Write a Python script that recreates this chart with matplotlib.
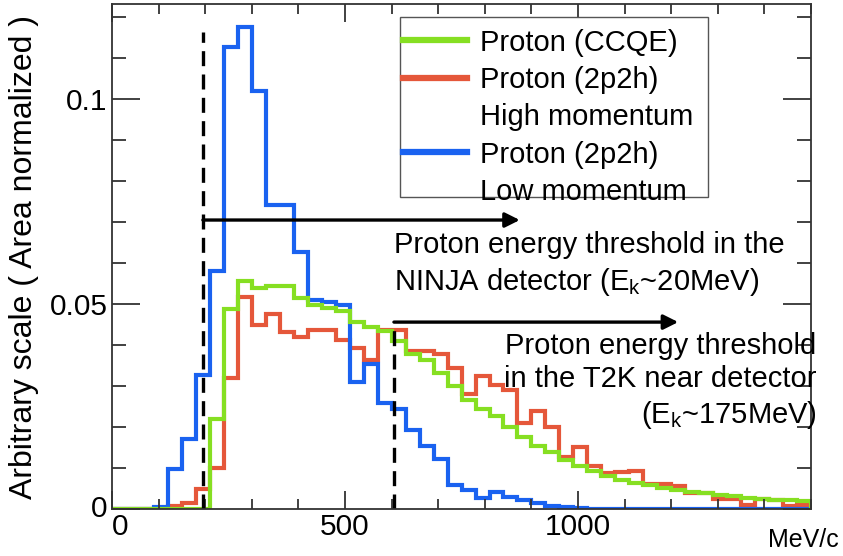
import numpy as np
import matplotlib
matplotlib.use('Agg')
import matplotlib.pyplot as plt
import matplotlib.transforms as mtransforms
from matplotlib.lines import Line2D
from matplotlib.patches import Rectangle
from matplotlib.ticker import MultipleLocator

plt.rcParams['font.family'] = ['Liberation Sans', 'DejaVu Sans']
plt.rcParams['mathtext.fontset'] = 'custom'
plt.rcParams['mathtext.rm'] = 'Liberation Sans'
plt.rcParams['mathtext.it'] = 'Liberation Sans'

# ---- data: proton momentum histograms, 30 MeV/c bins from 0 to 1500 ----
edges = np.arange(0, 1530, 30)

ccqe = [0, 0, 0, 0, 0, 0, 0, 0.022, 0.0487, 0.0556,
        0.0538, 0.0544, 0.0544, 0.0514, 0.0497, 0.049, 0.0484, 0.0456, 0.0445, 0.0434,
        0.041, 0.0378, 0.0363, 0.0331, 0.030, 0.0266, 0.0245, 0.0228, 0.020, 0.0176,
        0.0154, 0.014, 0.012, 0.0105, 0.0093, 0.0081, 0.0072, 0.0064, 0.0058, 0.0052,
        0.0046, 0.0042, 0.0038, 0.0034, 0.0031, 0.0028, 0.0025, 0.0023, 0.0021, 0.0019]

high_2p2h = [0, 0, 0, 0, 0.0008, 0.0015, 0.005, 0.010, 0.032, 0.0517,
             0.045, 0.0476, 0.0432, 0.042, 0.0437, 0.0437, 0.0412, 0.0393, 0.0363, 0.0437,
             0.0437, 0.0386, 0.0386, 0.0378, 0.0345, 0.028, 0.0325, 0.0302, 0.029, 0.021,
             0.024, 0.020, 0.0128, 0.0152, 0.0105, 0.0088, 0.009, 0.0092, 0.006, 0.006,
             0.0055, 0.004, 0.004, 0.0025, 0.0025, 0.001, 0.0024, 0.0022, 0.0008, 0.001]

low_2p2h = [0, 0, 0, 0.0005, 0.0097, 0.017, 0.0327, 0.058, 0.1127, 0.1176,
            0.102, 0.0742, 0.0742, 0.0628, 0.051, 0.0505, 0.0498, 0.031, 0.0354, 0.0258,
            0.0243, 0.0193, 0.0154, 0.0122, 0.0059, 0.0046, 0.0027, 0.0041, 0.003, 0.0022,
            0.0014, 0.0008, 0.0005, 0.0003, 0, 0, 0, 0, 0, 0,
            0, 0, 0, 0, 0, 0, 0, 0, 0, 0]

# detection thresholds in momentum (MeV/c)
ninja_thr = 195
t2k_thr = 605

green = '#86DF22'
red = '#E5573A'
blue = '#1A62F0'

fig = plt.figure(figsize=(8.43, 5.56), dpi=100)
ax = fig.add_axes([0.1329, 0.0845, 0.8292, 0.9083])

ax.stairs(high_2p2h, edges, color=red, lw=3.0)
ax.stairs(low_2p2h, edges, color=blue, lw=3.0)
ax.stairs(ccqe, edges, color=green, lw=3.0)

# threshold markers
ax.vlines(ninja_thr, 0, 0.1163, colors='black', lw=2.4, linestyles=(0, (4.5, 2.5)))
ax.vlines(t2k_thr, 0, 0.0458, colors='black', lw=2.4, linestyles=(0, (4.5, 2.5)))
arrow = dict(arrowstyle='-|>', color='black', lw=2.4, mutation_scale=22, shrinkA=0, shrinkB=0)
ax.annotate('', xy=(875, 0.0705), xytext=(ninja_thr, 0.0705), arrowprops=arrow)
ax.annotate('', xy=(1215, 0.0456), xytext=(t2k_thr, 0.0456), arrowprops=arrow)

ax.text(605, 0.0678, 'Proton energy threshold in the\nNINJA detector (E$_\\mathrm{k}$~20MeV)',
        fontsize=21, ha='left', va='top', linespacing=1.3)
ax.text(1512, 0.0433, 'Proton energy threshold\nin the T2K near detector\n(E$_\\mathrm{k}$~175MeV)',
        fontsize=21, ha='right', va='top', multialignment='right', linespacing=1.25,
        clip_on=False)

ax.set_xlim(0, 1500)
ax.set_ylim(0, 0.1232)
ax.set_xticks([0, 500, 1000])
ax.xaxis.set_minor_locator(MultipleLocator(100))
ax.set_yticks([0, 0.05, 0.1])
ax.set_yticklabels(['0', '0.05', '0.1'])
ax.yaxis.set_minor_locator(MultipleLocator(0.01))
ax.tick_params(which='both', direction='in', top=True, right=True, labelsize=21.5,
               color='#333333')
ax.tick_params(axis='y', which='major', length=20, width=1.3, pad=3)
ax.tick_params(axis='y', which='minor', length=10, width=1.3)
ax.tick_params(axis='x', which='major', length=13, width=1.3, pad=3)
ax.tick_params(axis='x', which='minor', length=7, width=1.3)
for s in ax.spines.values():
    s.set_color('#333333')
    s.set_linewidth(1.3)

# nudge the x "0" and y "0" apart a little, as in the original
zero_x = ax.get_xticklabels()[0]
zero_x.set_transform(zero_x.get_transform() +
                     mtransforms.ScaledTranslation(0.08, 0.0, fig.dpi_scale_trans))
zero_y = ax.get_yticklabels()[0]
zero_y.set_transform(zero_y.get_transform() +
                     mtransforms.ScaledTranslation(0.0, 0.03, fig.dpi_scale_trans))

ax.set_ylabel('Arbitrary scale ( Area normalized )', fontsize=23, labelpad=8)
fig.text(0.995, 0.008, 'MeV/c', fontsize=18, ha='right', va='bottom')

# legend: rows drawn by legend, frame drawn separately (tight bottom as in the original)
ax.add_patch(Rectangle((0.412, 0.618), 0.441, 0.356, transform=ax.transAxes,
                       facecolor='white', edgecolor='#555555', lw=1.0, zorder=4))
handles = [Line2D([], [], color=green, lw=4.5),
           Line2D([], [], color=red, lw=4.5),
           Line2D([], [], color='none'),
           Line2D([], [], color=blue, lw=4.5),
           Line2D([], [], color='none')]
labels = ['Proton (CCQE)', 'Proton (2p2h)', 'High momentum', 'Proton (2p2h)', 'Low momentum']
leg = ax.legend(handles, labels, loc='upper left', bbox_to_anchor=(0.412, 0.957),
                fontsize=21, frameon=False, handlelength=2.2,
                handletextpad=0.45, labelspacing=0.32, borderpad=0.1, borderaxespad=0)
leg.set_zorder(5)

fig.savefig('out.png', dpi=100)
